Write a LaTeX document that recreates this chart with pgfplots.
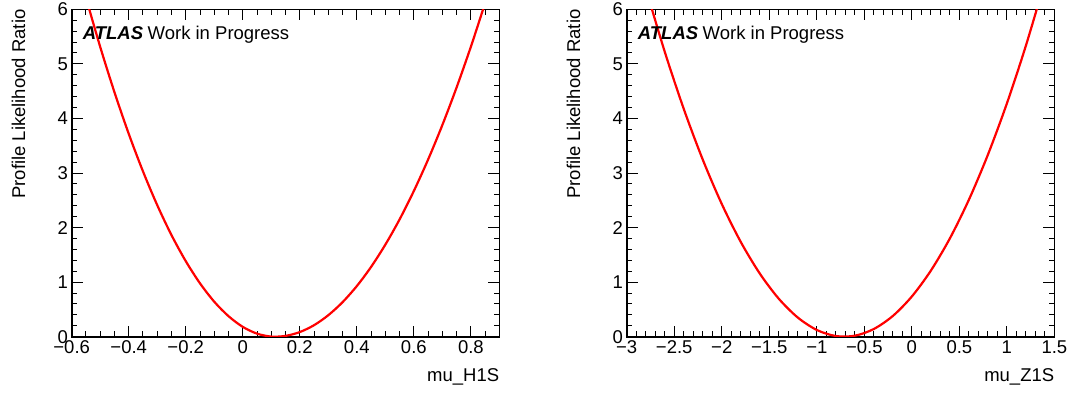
\documentclass[border=0pt]{standalone}
\usepackage{fontspec}
\setmainfont{Liberation Sans}
\usepackage{pgfplots}
\pgfplotsset{compat=1.18}

\pgfplotsset{rootstyle/.style={
  scale only axis, width=427.7pt, height=327.4pt,
  ymin=0, ymax=6, ytick={0,1,2,3,4,5,6},
  minor ytick={0,0.2,...,6},
  tick align=inside, major tick length=11pt, minor tick length=5.5pt,
  axis line style={line width=1.6pt},
  tick style={line width=1pt, black},
  tick label style={font=\fontsize{18.5}{20}\selectfont},
  xticklabel style={inner sep=0pt, yshift=-3.5pt},
  yticklabel style={inner sep=0pt, xshift=-3.5pt},
  /pgf/number format/assume math mode=true,
  anchor=south west,
}}

\begin{document}
\begin{tikzpicture}
\useasboundingbox (0,0) rectangle (1070pt,394pt);

% ---------- left panel: mu_H1S ----------
\begin{axis}[rootstyle, at={(71.7pt,57.3pt)},
  xmin=-0.6, xmax=0.9,
  xtick={-0.6,-0.4,-0.2,0,0.2,0.4,0.6,0.8},
  xticklabels={−0.6,−0.4,−0.2,0,0.2,0.4,0.6,0.8},
  minor xtick={-0.6,-0.55,...,0.9},
]
\addplot[red, line width=2.2pt, smooth] coordinates {
(-0.56,6.401) (-0.55,6.212) (-0.50,5.311) (-0.45,4.480) (-0.40,3.719)
(-0.35,3.030) (-0.30,2.411) (-0.25,1.862) (-0.20,1.385) (-0.15,0.978)
(-0.10,0.641) (-0.05,0.376) (0.00,0.180) (0.05,0.056) (0.10,0.002)
(0.15,0.015) (0.20,0.085) (0.25,0.211) (0.30,0.394) (0.35,0.633)
(0.40,0.928) (0.45,1.279) (0.50,1.687) (0.55,2.150) (0.60,2.671)
(0.65,3.247) (0.70,3.880) (0.75,4.569) (0.80,5.315) (0.85,6.117)
(0.87,6.453)
};
\end{axis}

% ---------- right panel: mu_Z1S ----------
\begin{axis}[rootstyle, at={(626.7pt,57.3pt)},
  xmin=-3, xmax=1.5,
  xtick={-3,-2.5,-2,-1.5,-1,-0.5,0,0.5,1,1.5},
  xticklabels={−3,−2.5,−2,−1.5,−1,−0.5,0,0.5,1,1.5},
  minor xtick={-3,-2.9,...,1.5},
]
\addplot[red, line width=2.2pt, smooth] coordinates {
(-2.8,6.387) (-2.6,5.223) (-2.4,4.176) (-2.2,3.246) (-2.0,2.433)
(-1.8,1.737) (-1.6,1.158) (-1.4,0.696) (-1.2,0.351) (-1.0,0.123)
(-0.8,0.012) (-0.6,0.018) (-0.4,0.141) (-0.2,0.380) (0.0,0.737)
(0.2,1.211) (0.4,1.801) (0.6,2.509) (0.8,3.334) (1.0,4.275)
(1.2,5.334) (1.4,6.510)
};
\end{axis}

% ---------- texts ----------
\begin{scope}[every node/.style={inner sep=0pt, font=\fontsize{18.5}{20}\selectfont}]
\node[rotate=90, anchor=base east] at (25pt,384.7pt) {Profile Likelihood Ratio};
\node[rotate=90, anchor=base east] at (580pt,384.7pt) {Profile Likelihood Ratio};
\node[anchor=base east] at (499.4pt,12.3pt) {mu\_H1S};
\node[anchor=base east] at (1054.4pt,12.3pt) {mu\_Z1S};
\node[anchor=base west] at (82.7pt,354pt) {\textbf{\textit{ATLAS}}\hspace{4.5pt}Work in Progress};
\node[anchor=base west] at (637.7pt,354pt) {\textbf{\textit{ATLAS}}\hspace{4.5pt}Work in Progress};
\end{scope}
\end{tikzpicture}
\end{document}
